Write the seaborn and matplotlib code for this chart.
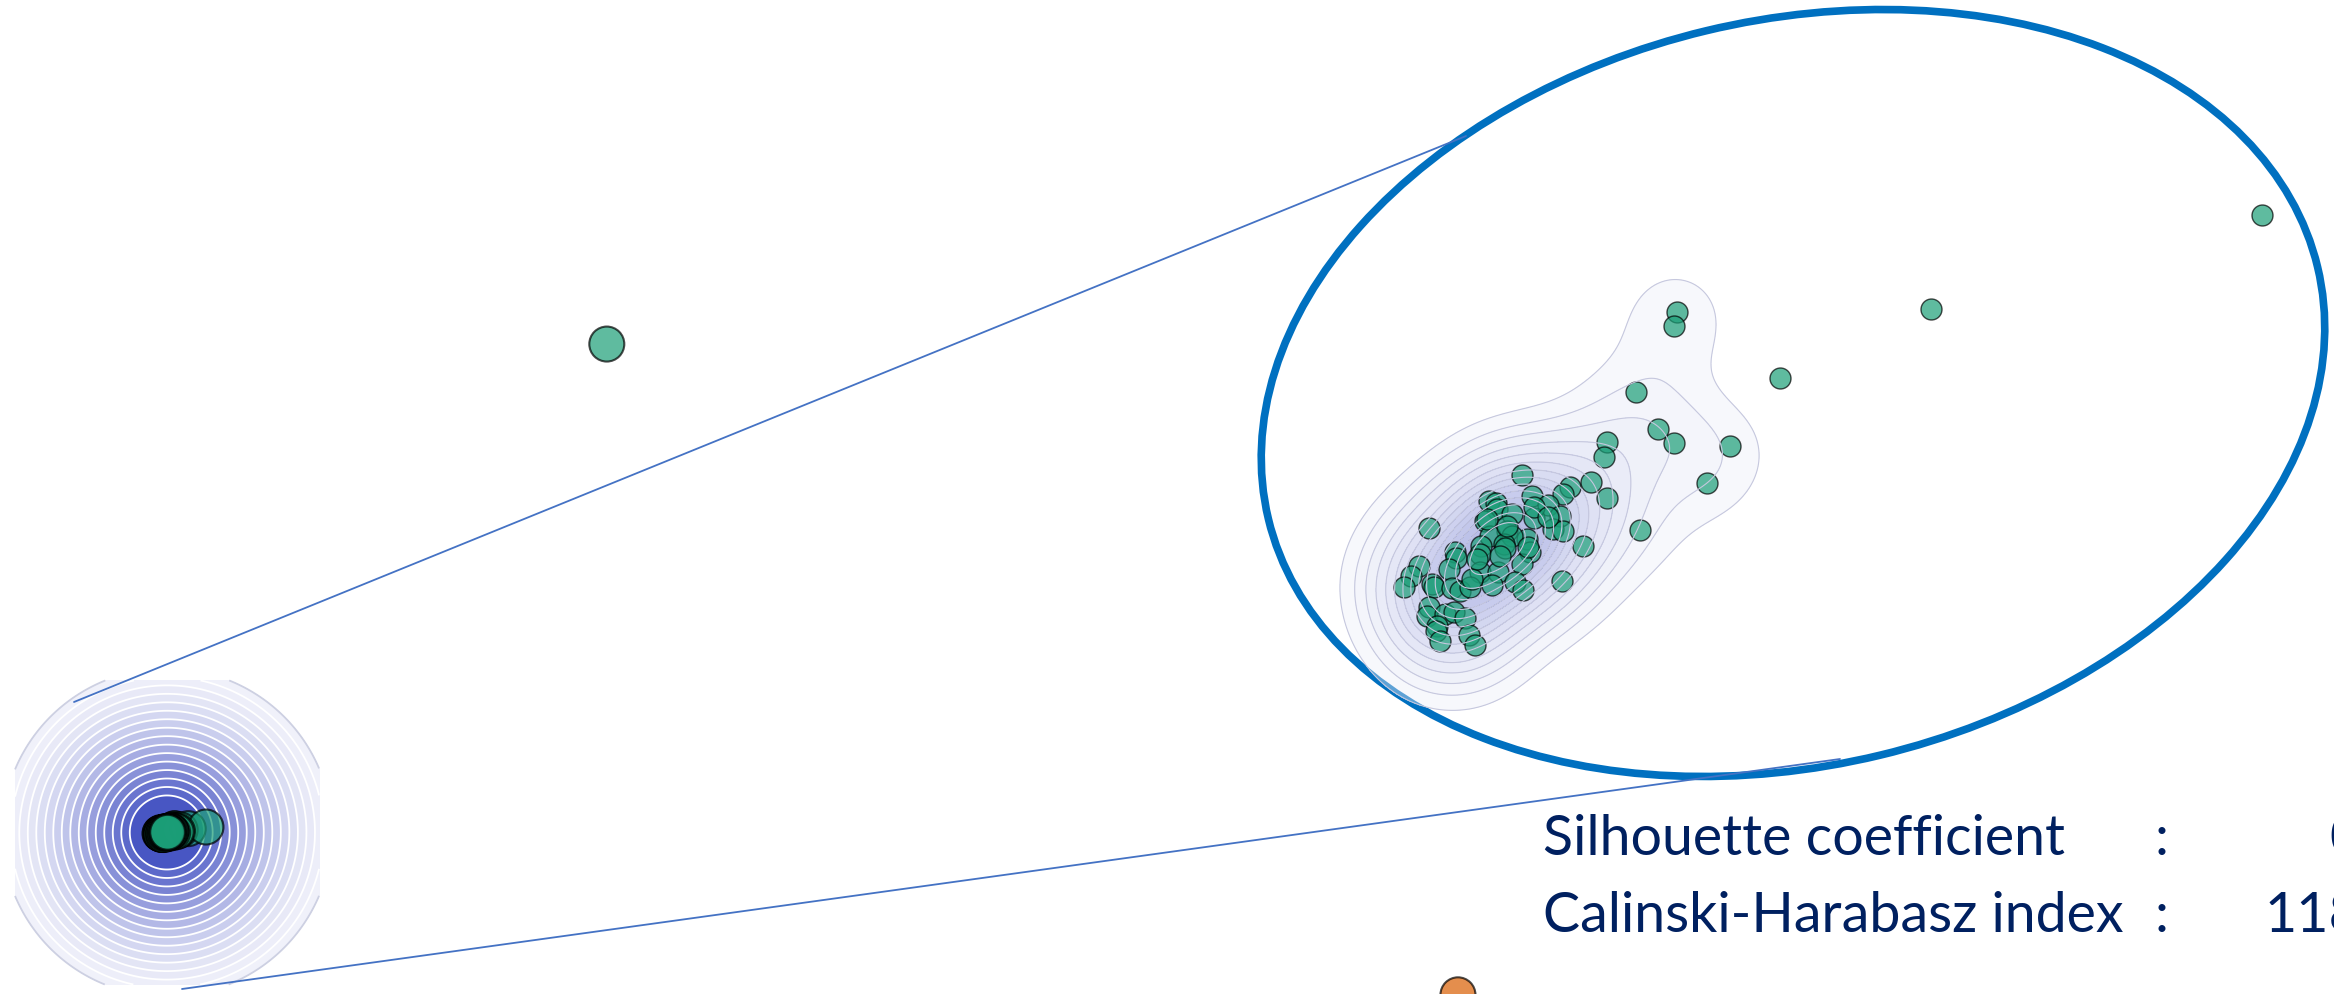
import numpy as np
import pandas as pd
import matplotlib
matplotlib.use("Agg")
import matplotlib.pyplot as plt
from matplotlib.colors import LinearSegmentedColormap
from matplotlib.patches import Ellipse
import seaborn as sns

# ---------------- data ----------------
cluster_x = [2.17, 2.14, 4.71, 3.20, 8.02, 1.76, 1.98, 2.14, 2.70, 2.47, 1.80, 1.47, 1.44,
             0.62, 1.10, 1.03, 1.31, 1.47, 0.72, 0.88, 1.00, 0.74, 0.93, 1.03, 1.23, 1.02,
             -0.31, 0.29, 0.36, 0.37, 0.52, 0.25, 0.47, 0.30, 0.67, 0.52, 0.44, 0.45, 0.70,
             0.62, 0.21, 0.20, -0.05, -0.04, -0.11, 0.20, 0.38, 0.32, 0.55, 0.63, -0.41,
             -0.49, -0.56, -0.28, -0.26, -0.08, 0.00, 0.10, 0.12, -0.31, -0.33, -0.15, -0.06,
             0.05, -0.23, -0.24, -0.20, 0.09, 0.15, 0.27, 0.17, 0.40, 0.47, 0.68, 0.74, 0.88]
cluster_y = [2.47, 2.33, 2.50, 1.81, 3.44, 1.67, 1.30, 1.16, 1.13, 0.76, 0.29, 1.17, 1.02,
             0.84, 0.72, 0.65, 0.77, 0.61, 0.63, 0.54, 0.43, 0.41, 0.30, 0.28, 0.13, -0.22,
             0.31, 0.58, 0.56, 0.50, 0.45, 0.38, 0.28, 0.23, 0.20, 0.23, 0.15, 0.11, 0.07,
             -0.05, 0.13, 0.05, 0.07, 0.01, -0.10, -0.13, -0.13, -0.26, -0.23, -0.31, -0.07,
             -0.17, -0.28, -0.25, -0.28, -0.29, -0.32, -0.28, -0.20, -0.48, -0.57, -0.55, -0.53,
             -0.59, -0.67, -0.72, -0.82, -0.76, -0.86, 0.40, 0.00, 0.03, 0.33, 0.12, 0.52, 0.42]
# points of the cluster left out of the zoomed density (far stragglers)
straggler_idx = [2, 3, 4]
other_x = [82.8, 241.6]
other_y = [281.0, -93.0]
other_label = [0, 1]

metric_names = ["Silhouette coefficient", "Calinski-Harabasz index"]
metric_values = ["0", "118"]

# ---------------- style ----------------
sns.set_theme(style="white")
plt.rcParams['font.family'] = ['Lato', 'DejaVu Sans']

W, H = 2334, 995
fig = plt.figure(figsize=(W / 100, H / 100), dpi=100)
fig.patch.set_facecolor("white")

palette = sns.color_palette("Dark2", 2)
cmap = LinearSegmentedColormap.from_list("kde", ["#f1f2fa", "#3a49bf"])


def iso_levels(dens, props):
    """seaborn-style iso-proportion levels"""
    vals = np.sort(dens.ravel())[::-1]
    cum = np.cumsum(vals) / vals.sum()
    idx = np.searchsorted(cum, 1 - np.asarray(props))
    return np.take(vals, idx, mode="clip")


# ---------------- main axes ----------------
ax = fig.add_axes([0, 0, 1, 1])
xlim = (-30.41, 405.04)
ylim = (-92.53, 479.31)
ax.set_xlim(xlim)
ax.set_ylim(ylim)
ax.axis("off")

sx = W / (xlim[1] - xlim[0])
sy = H / (ylim[1] - ylim[0])
cx = np.array(cluster_x)
cy = np.array(cluster_y)
px = (cx - xlim[0]) * sx
py = (cy - ylim[0]) * sy
sigma = 65.0
half = 152.0
gx = np.linspace(px.mean() - half, px.mean() + half, 300)
gy = np.linspace(py.mean() - half, py.mean() + half, 300)
GX, GY = np.meshgrid(gx, gy)
dens = np.exp(-0.5 * (((GX[..., None] - px) / sigma) ** 2 +
                      ((GY[..., None] - py) / sigma) ** 2)).sum(-1)
dens /= dens.max()
radii = np.linspace(164, 37, 16)
lv = np.exp(-0.5 * (radii / sigma) ** 2)
lv = np.append(lv, 1.0001)
Xd = GX / sx + xlim[0]
Yd = GY / sy + ylim[0]
ax.contourf(Xd, Yd, dens, levels=lv, cmap=cmap, zorder=1)
ax.contour(Xd, Yd, dens, levels=lv[:-1],
           colors=["#cdd0e2"] + ["white"] * (len(lv) - 2),
           linewidths=1.3, zorder=2)

df_main = pd.DataFrame({
    "x": np.r_[cluster_x, other_x],
    "y": np.r_[cluster_y, other_y],
    "cluster": [0] * len(cluster_x) + other_label,
})
sns.scatterplot(data=df_main, x="x", y="y", hue="cluster",
                palette={0: palette[0], 1: palette[1]}, s=635, alpha=0.7,
                edgecolor="black", linewidth=1.5, legend=False, ax=ax, zorder=3)
ax.set_xlim(xlim)
ax.set_ylim(ylim)
ax.axis("off")

# ---------------- overlay (connectors, ellipse, text) ----------------
ov = fig.add_axes([0, 0, 1, 1])
ov.set_xlim(0, W)
ov.set_ylim(0, H)
ov.axis("off")
ov.plot([74, 1466], [H - 703, H - 137], color="#4472c4", lw=1.3)
ov.plot([182, 1840], [H - 990, H - 760], color="#4472c4", lw=1.3)
ov.add_patch(Ellipse((1793, H - 394), 1079, 745, angle=13.5, fill=False,
                     edgecolor="#0070c0", lw=5.5))

tc = "#002060"
baselines = [855, 932]
value_x = [2329, 2265]
for i, (name, val) in enumerate(zip(metric_names, metric_values)):
    yb = H - baselines[i]
    ov.text(1543, yb, name, color=tc, fontsize=40, va="baseline", ha="left")
    ov.text(2155, yb, ":", color=tc, fontsize=40, va="baseline", ha="left")
    ov.text(value_x[i], yb, val, color=tc, fontsize=40, va="baseline", ha="left")

# ---------------- zoomed inset ----------------
axi = fig.add_axes([0, 0, 1, 1])
axi.patch.set_alpha(0)
core = pd.DataFrame({"x": cluster_x, "y": cluster_y}).drop(index=straggler_idx)
bw = 0.41
kx = np.linspace(core.x.min() - 3 * bw, core.x.max() + 3 * bw, 260)
ky = np.linspace(core.y.min() - 3 * bw, core.y.max() + 3 * bw, 260)
KX, KY = np.meshgrid(kx, ky)
kd = np.exp(-0.5 * (((KX[..., None] - core.x.values) / bw) ** 2 +
                    ((KY[..., None] - core.y.values) / bw) ** 2)).sum(-1)
klv = iso_levels(kd, np.linspace(0.05, 1, 15))
klv = np.unique(np.append(klv, kd.max() * 1.0001))
axi.contourf(KX, KY, kd, levels=klv, cmap=cmap, alpha=0.4)
axi.contour(KX, KY, kd, levels=klv[:-1], colors="#c6c8de", linewidths=0.8)
sns.scatterplot(x=cluster_x, y=cluster_y, color=palette[0], s=228, alpha=0.7,
                edgecolor="black", linewidth=1.0, ax=axi)
axi.set_xlim((0 - 1460) / 100, (W - 1460) / 100)
axi.set_ylim((560 - H) / 100, 560 / 100)
axi.axis("off")

fig.savefig("out.png", dpi=100)
